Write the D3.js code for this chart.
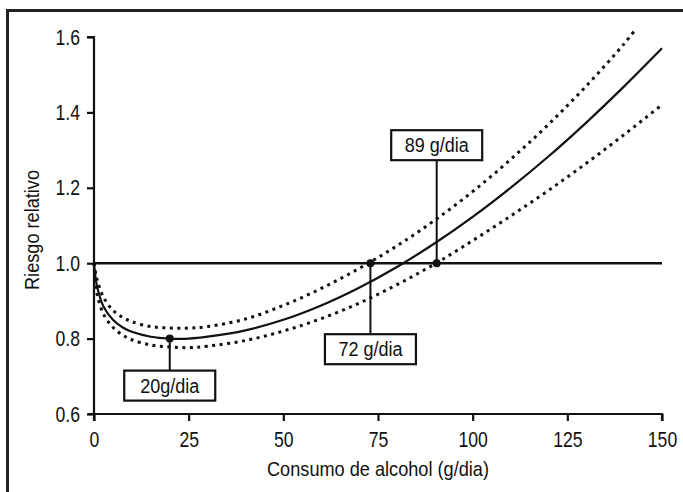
<!DOCTYPE html>
<html>
<head>
<meta charset="utf-8">
<script src="https://cdn.jsdelivr.net/npm/d3@7"></script>
<style>
  body { margin: 0; background: #fff; }
  svg { display: block; font-family: "Liberation Sans", Arial, sans-serif; }
</style>
</head>
<body>
<div id="chart"></div>
<script>
var width = 683
var height = 492

// x values (g/dia) where the curves were read
var doseX = [0, 0.5, 1, 2.5, 5, 7.5, 10, 15, 20, 25, 30, 40, 50, 60, 70, 80, 90, 100, 110, 120, 130, 140, 150];
// relative risk, central estimate
var rrMain = [1.0, 0.955, 0.93, 0.885, 0.85, 0.83, 0.818, 0.805, 0.80, 0.80, 0.805, 0.822, 0.85, 0.888, 0.935, 0.99, 1.053, 1.123, 1.2, 1.283, 1.373, 1.469, 1.57];
// upper and lower confidence limits
var rrUpper = [1.0, 0.97, 0.95, 0.91, 0.875, 0.857, 0.845, 0.832, 0.828, 0.828, 0.832, 0.852, 0.888, 0.933, 0.986, 1.046, 1.114, 1.19, 1.275, 1.368, 1.47, 1.582, null];
var rrLower = [1.0, 0.94, 0.91, 0.865, 0.83, 0.81, 0.797, 0.783, 0.778, 0.776, 0.78, 0.795, 0.82, 0.853, 0.894, 0.943, 0.998, 1.06, 1.125, 1.193, 1.265, 1.341, 1.42];
var upperEnd = { x: 143, y: 1.62 };

var xTicks = [0, 25, 50, 75, 100, 125, 150];
var yTicks = [0.6, 0.8, 1.0, 1.2, 1.4, 1.6];

var annotX = [20, 73, 90.5];
var annotY = [0.80, 1.0, 1.0];
var annotLabels = ["20g/dia", "72 g/dia", "89 g/dia"];

var svg = d3.select("#chart").append("svg")
    .attr("width", width)
    .attr("height", height);

// squeeze a text horizontally to look like a condensed face
function condense(sel, factor) {
    sel.each(function() {
        var w = this.getComputedTextLength();
        d3.select(this)
            .attr("textLength", w * factor)
            .attr("lengthAdjust", "spacingAndGlyphs");
    });
}

// frame (top and left edges only visible)
svg.append("path")
    .attr("d", "M7.5," + height + "V10.5H" + width)
    .attr("fill", "none")
    .attr("stroke", "#222")
    .attr("stroke-width", 3);

var x = d3.scaleLinear().domain([0, 150]).range([94, 662]);
var y = d3.scaleLinear().domain([0.6, 1.6]).range([414, 37]);

var xAxis = svg.append("g")
    .attr("transform", "translate(0," + y(0.6) + ")")
    .call(d3.axisBottom(x).tickValues(xTicks).tickSize(7).tickSizeOuter(0).tickPadding(10));
var yAxis = svg.append("g")
    .attr("transform", "translate(" + x(0) + ",0)")
    .call(d3.axisLeft(y).tickValues(yTicks).tickSize(7).tickSizeOuter(0).tickPadding(7)
        .tickFormat(d3.format(".1f")));

[xAxis, yAxis].forEach(function(g) {
    g.select(".domain").attr("stroke", "#111").attr("stroke-width", 2.2);
    g.selectAll(".tick line").attr("stroke", "#111").attr("stroke-width", 2.2);
    g.selectAll(".tick text").attr("fill", "#111").attr("font-size", 22)
        .attr("font-family", "Liberation Sans, Arial, sans-serif")
        .call(condense, 0.8);
});
// extend axes a little past the corner
xAxis.select(".domain").attr("d", "M" + (x(0) - 6) + ",0H" + x(150) + "V7");
yAxis.select(".domain").attr("d", "M-7," + y(1.6) + "H0V" + (y(0.6) + 7));

// reference line at RR = 1
svg.append("line")
    .attr("x1", x(0)).attr("x2", x(150))
    .attr("y1", y(1)).attr("y2", y(1))
    .attr("stroke", "#111").attr("stroke-width", 2.4);

var line = d3.line()
    .defined(function(d) { return d[1] != null; })
    .x(function(d) { return x(d[0]); })
    .y(function(d) { return y(d[1]); })
    .curve(d3.curveCatmullRom);

var mainPts = doseX.map(function(d, i) { return [d, rrMain[i]]; });
var upperPts = doseX.map(function(d, i) { return [d, rrUpper[i]]; })
    .filter(function(d) { return d[1] != null; });
upperPts.push([upperEnd.x, upperEnd.y]);
var lowerPts = doseX.map(function(d, i) { return [d, rrLower[i]]; });

[upperPts, lowerPts].forEach(function(pts) {
    svg.append("path")
        .attr("d", line(pts))
        .attr("fill", "none")
        .attr("stroke", "#111")
        .attr("stroke-width", 3)
        .attr("stroke-dasharray", "3,4.5");
});

svg.append("path")
    .attr("d", line(mainPts))
    .attr("fill", "none")
    .attr("stroke", "#111")
    .attr("stroke-width", 2.2);

// annotations: offset of the box from the marker (px)
var boxW = 91, boxH = 30;
var boxOffset = [32, 71, -133];

annotX.forEach(function(ax, i) {
    var cx = x(ax), cy = y(annotY[i]);
    var top = cy + boxOffset[i];
    var g = svg.append("g");
    g.append("line")
        .attr("x1", cx).attr("x2", cx)
        .attr("y1", cy)
        .attr("y2", boxOffset[i] > 0 ? top : top + boxH)
        .attr("stroke", "#111").attr("stroke-width", 2);
    g.append("rect")
        .attr("x", cx - boxW / 2).attr("y", top)
        .attr("width", boxW).attr("height", boxH)
        .attr("fill", "#fff").attr("stroke", "#111").attr("stroke-width", 2.2);
    g.append("text")
        .attr("x", cx).attr("y", top + 22)
        .attr("text-anchor", "middle")
        .attr("font-size", 20)
        .attr("fill", "#111")
        .text(annotLabels[i])
        .call(condense, 0.9);
    g.append("circle")
        .attr("cx", cx).attr("cy", cy).attr("r", 4)
        .attr("fill", "#111");
});

// axis titles
svg.append("text")
    .attr("x", 378).attr("y", 476)
    .attr("text-anchor", "middle")
    .attr("font-size", 21)
    .attr("fill", "#111")
    .attr("textLength", 222)
    .attr("lengthAdjust", "spacingAndGlyphs")
    .text("Consumo de alcohol (g/dia)");

svg.append("text")
    .attr("transform", "translate(39,230) rotate(-90)")
    .attr("text-anchor", "middle")
    .attr("font-size", 20)
    .attr("fill", "#111")
    .attr("textLength", 120)
    .attr("lengthAdjust", "spacingAndGlyphs")
    .text("Riesgo relativo");
</script>
</body>
</html>
